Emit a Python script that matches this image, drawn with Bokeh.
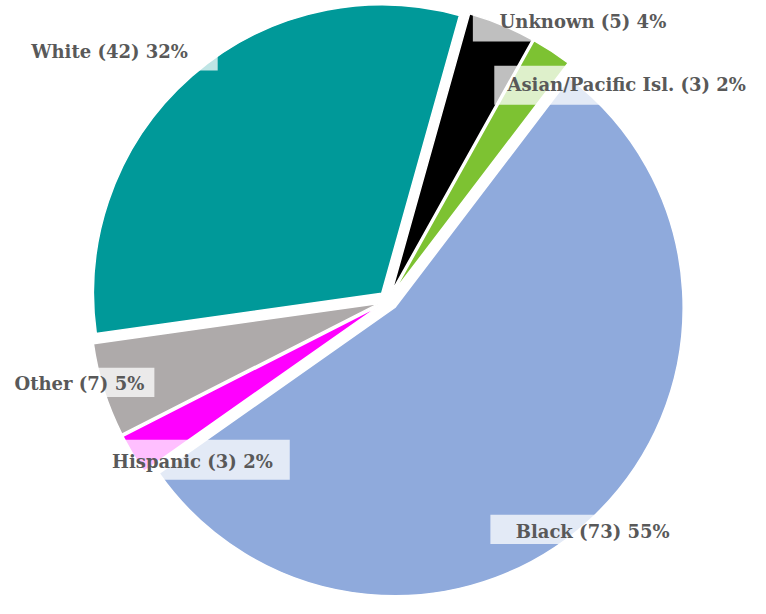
import math
from bokeh.plotting import figure
from bokeh.models import Range1d, ColumnDataSource
from bokeh.core.properties import value
from bokeh.embed import file_html
from bokeh.resources import INLINE

# ---- data ----
CATEGORIES = ["Black", "Hispanic", "Other", "White", "Unknown", "Asian/Pacific Isl."]
COUNTS = [73, 3, 7, 42, 5, 3]
COLORS = ["#8FAADC", "#FF00FF", "#AEAAAA", "#009999", "#000000", "#7DC232"]

# ---- layout (reference pixel units, 766x614 picture) ----
REF_W, REF_H = 766, 614
W, H = 750, 598
SCALE = H / REF_H                 # px per reference unit
CX, CY_SCREEN = 398, 308
R = 296
EXPLODE = 10
START_DEG = 52.7  # first slice starts here and slices run clockwise

# label text centre and box (left, right, top, bottom) in reference px
LABEL_TEXT_POS = [(608, 545), (197, 473), (81, 393), (112, 52), (598, 22), (643, 86)]
LABEL_BOX = [(503, 713, 528, 558), (97, 297, 451, 492), (4, 158, 377, 407),
             (1, 223, 32, 72), (485, 711, 2, 42), (507, 790, 67, 107)]


def dy(y_screen):
    return REF_H - y_screen


p = figure(width=W, height=H, x_range=Range1d(0, W / SCALE),
           y_range=Range1d(0, REF_H),
           output_backend="svg", toolbar_location=None, min_border=0)
p.axis.visible = False
p.grid.visible = False
p.outline_line_color = None
p.background_fill_color = "white"
p.border_fill_color = "white"

total = sum(COUNTS)
xs, ys, los, his = [], [], [], []
cur = math.radians(START_DEG)
for v in COUNTS:
    span = v / total * 2 * math.pi
    hi = cur
    lo = cur - span
    mid = (hi + lo) / 2
    xs.append(CX + EXPLODE * math.cos(mid))
    ys.append(dy(CY_SCREEN) + EXPLODE * math.sin(mid))
    los.append(lo)
    his.append(hi)
    cur = lo

src = ColumnDataSource(dict(x=xs, y=ys, lo=los, hi=his, color=COLORS))
p.wedge(x="x", y="y", radius=R, start_angle="lo", end_angle="hi",
        direction="anticlock", fill_color="color", line_color="white",
        line_width=1.5, source=src)

labels = [f"{c} ({n}) {round(n / total * 100)}%" for c, n in zip(CATEGORIES, COUNTS)]

box_src = ColumnDataSource(dict(
    left=[b[0] for b in LABEL_BOX], right=[b[1] for b in LABEL_BOX],
    top=[dy(b[2]) for b in LABEL_BOX], bottom=[dy(b[3]) for b in LABEL_BOX]))
p.quad(left="left", right="right", top="top", bottom="bottom", source=box_src,
       fill_color="white", fill_alpha=0.75, line_color=None)

txt_src = ColumnDataSource(dict(
    x=[t[0] for t in LABEL_TEXT_POS], y=[dy(t[1]) for t in LABEL_TEXT_POS], text=labels))
p.text(x="x", y="y", text="text", source=txt_src, text_align="center",
       text_baseline="middle", text_font=value("DejaVu Serif"),
       text_font_style="bold", text_font_size="18px", text_color="#595959")

open("out.html", "w").write(file_html(p, INLINE))
